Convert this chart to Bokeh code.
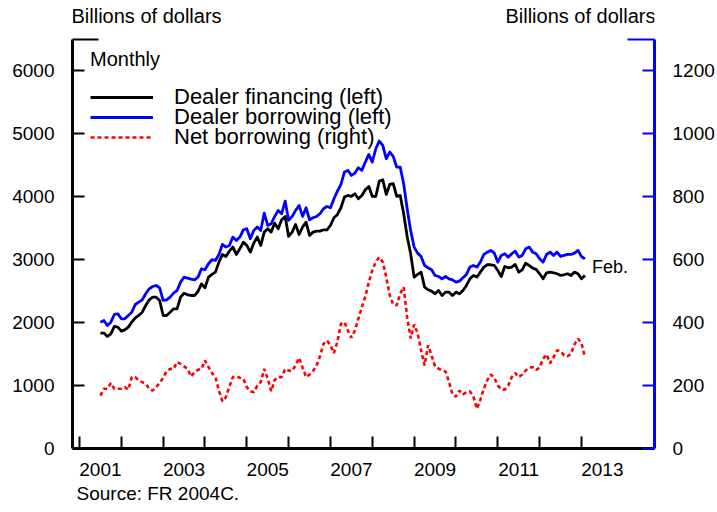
import pandas as pd
from bokeh.plotting import figure
from bokeh.models import (Range1d, LinearAxis, FixedTicker, CustomJSTickFormatter, Label, Title,
                          Legend, LegendItem)
from bokeh.embed import file_html
from bokeh.resources import INLINE

# ---------------- data (billions of dollars, monthly Jul 2001 - Feb 2013) ----------------
months = pd.date_range("2001-07-01", "2013-02-01", freq="MS")

dealer_financing = [
    1834, 1834, 1780, 1823, 1940, 1929, 1865, 1886, 1929, 2008,
    2077, 2114, 2167, 2273, 2363, 2405, 2405, 2353, 2114, 2114,
    2167, 2220, 2220, 2405, 2469, 2443, 2432, 2432, 2495, 2617,
    2554, 2723, 2766, 2803, 2962,
    3084, 3052, 3137, 3201, 3084, 3174, 3280, 3227, 3121, 3264,
    3360, 3227, 3439, 3492, 3439, 3582, 3492, 3635, 3688, 3370,
    3439, 3561, 3402, 3519, 3598, 3386, 3439, 3455, 3455, 3476,
    3476, 3545, 3667, 3720,
    3826, 3996, 4022, 4006, 4049, 3969, 4022, 4112, 4165, 4006,
    4006, 4250, 4271, 4038, 4197, 4208, 4006, 4022, 3731, 3370,
    3095, 2724, 2766, 2803, 2565, 2523, 2501, 2459, 2512, 2432,
    2485, 2485, 2432, 2485, 2459,
    2512, 2591, 2697, 2750, 2724, 2803, 2883, 2920, 2920, 2909,
    2830, 2734, 2893, 2872, 2883, 2925, 2803, 2840, 2946, 2909,
    2867, 2846, 2777, 2697, 2793, 2803, 2793, 2777, 2750, 2761,
    2777, 2750, 2803, 2777, 2697, 2750,
]

dealer_borrowing = [
    2008, 2035, 1955, 2008, 2130, 2141, 2061, 2061, 2114, 2167,
    2289, 2326, 2363, 2459, 2538, 2575, 2591, 2554, 2353, 2363,
    2406, 2469, 2512, 2644, 2724, 2708, 2692, 2681, 2724, 2856,
    2841, 2936, 3000, 2989, 3084,
    3243, 3201, 3227, 3360, 3307, 3360, 3476, 3492, 3333, 3466,
    3519, 3466, 3741, 3545, 3572, 3688, 3784, 3731, 3932, 3625,
    3688, 3784, 3863, 3688, 3826, 3635, 3667, 3688, 3731, 3810,
    3847, 3826, 3969, 4090,
    4197, 4393, 4420, 4340, 4377, 4462, 4420, 4552, 4674, 4552,
    4764, 4886, 4817, 4605, 4711, 4642, 4472, 4472, 4208, 3810,
    3466, 3201, 3105, 3052, 2909, 2872, 2841, 2750, 2734, 2697,
    2734, 2697, 2681, 2644, 2660,
    2713, 2766, 2883, 2909, 2883, 2962, 3084, 3121, 3148, 3105,
    2962, 3068, 3095, 3041, 3095, 3137, 3041, 3068, 3174, 3201,
    3121, 3095, 3015, 2962, 3084, 3121, 3068, 3121, 3052, 3068,
    3084, 3084, 3105, 3148, 3052, 3015,
]

net_borrowing = [
    168, 190, 190, 208, 190, 190, 190, 195, 187, 227,
    227, 216, 211, 206, 190, 184, 195, 208, 225, 246,
    253, 253, 275, 269, 261, 253, 229, 243, 250, 253,
    280, 259, 240, 227, 184,
    150, 163, 197, 227, 229, 225, 222, 195, 182, 179,
    200, 211, 253, 222, 182, 218, 227, 227, 253, 248,
    246, 264, 288, 257, 227, 235, 246, 264, 293, 333,
    343, 328, 303, 340,
    396, 402, 375, 352, 375, 412, 449, 483, 529, 566,
    593, 608, 593, 545, 487, 458, 455, 492, 513, 418,
    350, 394, 366, 312, 264, 328, 296, 261, 254, 248,
    245, 213, 172, 165, 184,
    172, 179, 182, 165, 126, 155, 190, 218, 235, 225,
    200, 188, 187, 200, 227, 240, 227, 235, 248, 256,
    259, 250, 257, 285, 299, 271, 290, 312, 310, 296,
    293, 301, 331, 349, 335, 290,
]

year_ticks = list(range(2001, 2014))
label_years = [2001, 2003, 2005, 2007, 2009, 2011, 2013]
left_ticks = [0, 1000, 2000, 3000, 4000, 5000, 6000]
right_ticks = [0, 200, 400, 600, 800, 1000, 1200]
left_top, right_top = 6500, 1300

series_names = ["Dealer financing (left)", "Dealer borrowing (left)", "Net borrowing (right)"]

# ---------------- figure ----------------
x = [d.year + (d.month - 1) / 12 for d in months]
FONT = "Liberation Sans"

# frame reaches the top of the canvas so the unit captions can sit inside it;
# the axes themselves stop at left_top / right_top via their bounds
p = figure(width=717, height=512, output_backend="svg", toolbar_location=None,
           x_range=Range1d(2000.833, 2014.746), y_range=Range1d(0, 7120),
           x_axis_type=None, y_axis_type=None,
           min_border_left=72, min_border_right=63, min_border_top=0, min_border_bottom=64)
p.outline_line_color = None
p.background_fill_color = "white"
p.extra_y_ranges = {"right": Range1d(0, 7120 / 5)}


def style_axis(ax, color):
    ax.axis_line_width = 3
    ax.axis_line_color = color
    ax.major_tick_line_color = color
    ax.minor_tick_line_color = color
    ax.major_tick_line_width = 2
    ax.minor_tick_line_width = 2
    ax.major_tick_out = 0
    ax.minor_tick_out = 0
    ax.major_label_text_font = FONT
    ax.major_label_text_font_size = "19px"
    ax.major_label_text_color = "black"


xaxis = LinearAxis(ticker=FixedTicker(ticks=[yr + 0.5 for yr in label_years], minor_ticks=year_ticks),
                   formatter=CustomJSTickFormatter(code="return String(Math.floor(tick))"))
style_axis(xaxis, "black")
xaxis.major_tick_line_color = None
xaxis.major_tick_in = 0
xaxis.minor_tick_in = 12
xaxis.major_label_standoff = 14
p.add_layout(xaxis, "below")

yleft = LinearAxis(ticker=FixedTicker(ticks=left_ticks, minor_ticks=[left_top]), bounds=(0, left_top))
style_axis(yleft, "black")
yleft.major_tick_in = 12
yleft.minor_tick_in = 26
yleft.major_label_standoff = 18
p.add_layout(yleft, "left")

yright = LinearAxis(y_range_name="right", ticker=FixedTicker(ticks=right_ticks, minor_ticks=[right_top]),
                    bounds=(0, right_top))
style_axis(yright, "#0000ff")
yright.major_tick_in = 12
yright.minor_tick_in = 27
yright.major_label_standoff = 18
p.add_layout(yright, "right")

r_bor = p.line(x, dealer_borrowing, color="#0000ff", line_width=2.8, line_join="round")
r_fin = p.line(x, dealer_financing, color="black", line_width=2.8, line_join="round")
r_net = p.line(x, net_borrowing, color="#ff0000", line_width=2.6, line_dash="4 3",
               y_range_name="right")

# one single-entry legend per series, stacked tightly (20 px apart) as in the original
legend_rows = [(series_names[0], r_fin, 338), (series_names[1], r_bor, 318), (series_names[2], r_net, 298)]
for k, (name, rend, vy) in enumerate(legend_rows):
    leg = Legend(items=[LegendItem(label=name, renderers=[rend])], location=(18, vy),
                 label_text_font=FONT, label_text_font_size="22px", label_text_color="black",
                 label_standoff=21, glyph_width=63, glyph_height=20, label_height=20,
                 spacing=0, padding=0, margin=0, border_line_color=None,
                 background_fill_alpha=0)
    if k == 0:
        leg.title = "Monthly"
        leg.title_text_font = FONT
        leg.title_text_font_size = "20px"
        leg.title_text_font_style = "normal"
        leg.title_text_color = "black"
        leg.title_standoff = 13
    p.add_layout(leg, "center")

for txt, xs, align in [("Billions of dollars", -1, "left"), ("Billions of dollars", 583, "right")]:
    p.add_layout(Label(x=xs, y=433, x_units="screen", y_units="screen", text=txt,
                       text_font=FONT, text_font_size="20px", text_align=align,
                       text_baseline="alphabetic", text_color="black"))

p.add_layout(Title(text="Source: FR 2004C.", align="left", offset=4, standoff=4,
                   text_font=FONT, text_font_size="19px", text_font_style="normal",
                   text_color="black"), "below")

p.add_layout(Label(x=x[-1], y=(dealer_financing[-1] + dealer_borrowing[-1]) / 2, x_offset=7,
                   text="Feb.", text_font=FONT, text_font_size="18px",
                   text_baseline="middle", text_color="black"))

open("out.html", "w").write(file_html(p, INLINE))
